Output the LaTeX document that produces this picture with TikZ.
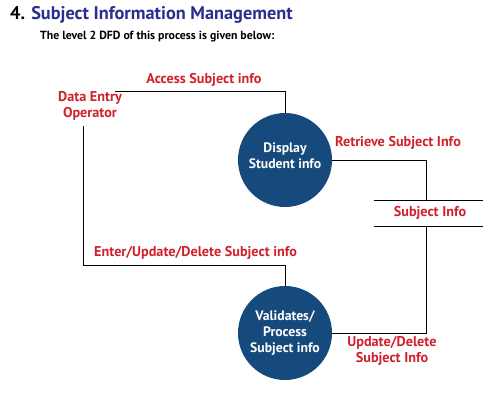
\documentclass[tikz,border=0pt]{standalone}
\usepackage{fontspec}
\setmainfont{PT Sans}
\definecolor{procblue}{HTML}{174A7C}
\definecolor{lblred}{HTML}{D0202A}
\definecolor{titleblue}{HTML}{2B2E8C}
\begin{document}
\begin{tikzpicture}[x=1pt,y=-1pt,
  proc/.style={circle,fill=procblue,minimum size=94pt,inner sep=0pt,text=white,align=center,font=\bfseries\fontsize{13.7}{16}\selectfont},
  lbl/.style={text=lblred,font=\bfseries\fontsize{14.2}{16.5}\selectfont,inner sep=0pt,align=center},
  flow/.style={draw=black,line width=0.9pt}]
\useasboundingbox (0,0) rectangle (500,400);
\node[anchor=west,inner sep=0pt,font=\bfseries\fontsize{18.3}{22}\selectfont] (title) at (10,15) {4. \textcolor{titleblue}{Subject Information Management}};
\node[anchor=west,inner sep=0pt,font=\bfseries\fontsize{11.8}{14}\selectfont] (sub) at (40,37) {The level 2 DFD of this process is given below:};
\node[lbl] (op) at (90,106) {Data Entry\\Operator};
\node[proc] (disp) at (285,160) {};
\node[text=white,align=center,inner sep=0pt,font=\bfseries\fontsize{13.7}{16}\selectfont] (dispt) at (285,156) {Display\\Student info};
\node[proc] (val) at (285,333) {Validates/\\Process\\Subject info};
\coordinate (stT1) at (374,200);
\coordinate (stT2) at (483,200);
\coordinate (stB1) at (374,226);
\coordinate (stB2) at (483,226);
\draw[flow] (stT1) -- (stT2);
\draw[flow] (stB1) -- (stB2);
\node[lbl] (store) at (430,213) {Subject Info};
\coordinate (opR) at (115,91);
\coordinate (opB) at (83,126);
\draw[flow] (opR) -| (disp.north);
\draw[flow] (opB) |- (285,265) -- (val.north);
\draw[flow] (disp.east) -| (426,200);
\draw[flow] (426,226) |- (val.east);
\node[lbl] at (204,80) {Access Subject info};
\node[lbl,anchor=west] at (335,143) {Retrieve Subject Info};
\node[lbl,anchor=west] at (94,253) {Enter/Update/Delete Subject info};
\node[lbl] at (392,351) {Update/Delete\\Subject Info};
\end{tikzpicture}
\end{document}
